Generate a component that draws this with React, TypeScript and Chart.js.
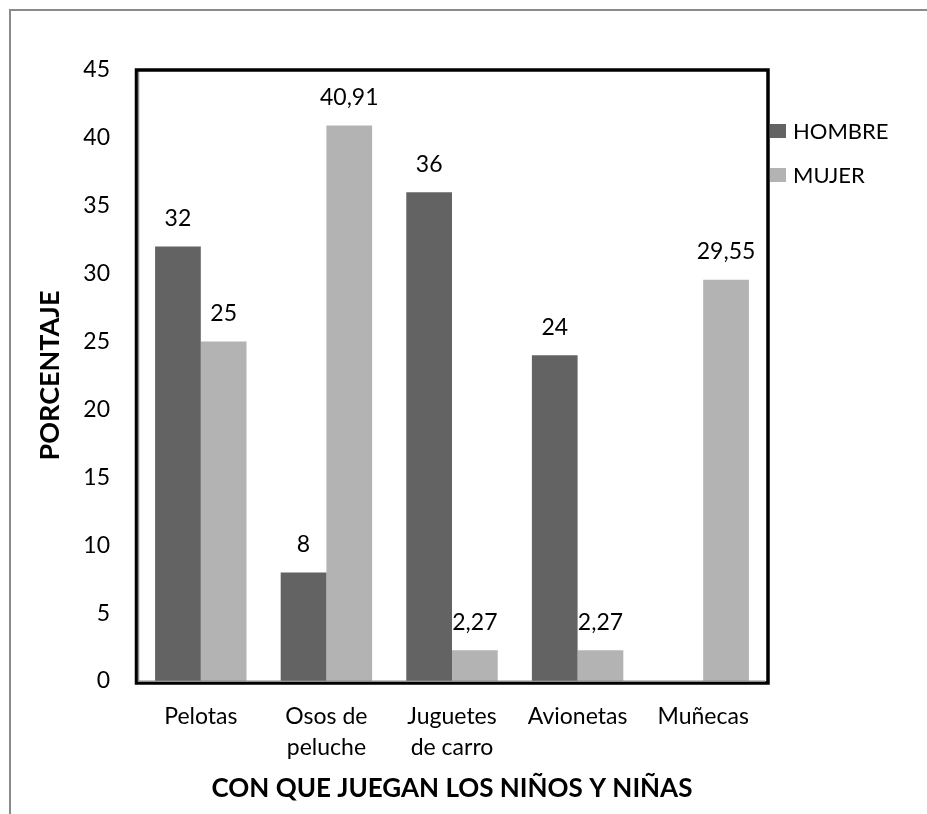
import React, { useEffect, useRef } from "react";
import { Chart, registerables } from "chart.js";

Chart.register(...registerables);

const categories: string[][] = [["Pelotas"], ["Osos de", "peluche"], ["Juguetes", "de carro"], ["Avionetas"], ["Muñecas"]];
const hombre: (number | null)[] = [32, 8, 36, 24, null];
const mujer: (number | null)[] = [25, 40.91, 2.27, 2.27, 29.55];
const seriesNames = ["HOMBRE", "MUJER"];
const seriesColors = ["#636363", "#b3b3b3"];
const yMin = 0;
const yMax = 45;
const yStep = 5;
const xTitle = "CON QUE JUEGAN LOS NIÑOS Y NIÑAS";
const yTitle = "PORCENTAJE";

const FONT = "Lato, 'Open Sans', sans-serif";

const decorPlugin = {
  id: "decor",
  afterDatasetsDraw(chart: any) {
    const ctx = chart.ctx;
    const { left, top, right, bottom } = chart.chartArea;
    ctx.save();
    // outer gray frame (top + left)
    ctx.strokeStyle = "#8a8a8a";
    ctx.lineWidth = 2;
    ctx.beginPath();
    ctx.moveTo(10, 814);
    ctx.lineTo(10, 10);
    ctx.lineTo(927, 10);
    ctx.stroke();
    // black plot frame
    ctx.strokeStyle = "#000";
    ctx.lineWidth = 3.5;
    ctx.strokeRect(left - 1.5, top, right - left + 3.5, bottom - top + 2);
    // gray inner axis lines
    ctx.strokeStyle = "#8c8c8c";
    ctx.lineWidth = 1.5;
    ctx.beginPath();
    ctx.moveTo(left + 0.5, top + 2);
    ctx.lineTo(left + 0.5, bottom + 0.2);
    ctx.lineTo(right - 1, bottom + 0.2);
    ctx.stroke();

    // data labels
    ctx.fillStyle = "#000";
    ctx.font = `23px ${FONT}`;
    ctx.textAlign = "center";
    ctx.textBaseline = "middle";
    chart.data.datasets.forEach((ds: any, di: number) => {
      const meta = chart.getDatasetMeta(di);
      meta.data.forEach((bar: any, i: number) => {
        const v = ds.data[i];
        if (v === null || v === undefined) return;
        const txt = String(v).replace(".", ",");
        ctx.fillText(txt, bar.x, bar.y - 28);
      });
    });

    // legend
    ctx.textAlign = "left";
    ctx.font = `22px ${FONT}`;
    chart.data.datasets.forEach((ds: any, di: number) => {
      const cy = top + 61 + di * 44;
      ctx.fillStyle = ds.backgroundColor;
      ctx.fillRect(right + 4, cy - 7, 16, 14);
      ctx.fillStyle = "#000";
      ctx.fillText(ds.label, right + 27, cy + 1);
    });
    ctx.restore();
  },
};

export default function App() {
  const ref = useRef<HTMLCanvasElement>(null);
  useEffect(() => {
    if (!ref.current) return;
    const chart = new Chart(ref.current, {
      type: "bar",
      data: {
        labels: categories,
        datasets: [
          { label: seriesNames[0], data: hombre, backgroundColor: seriesColors[0], borderWidth: 0 },
          { label: seriesNames[1], data: mujer, backgroundColor: seriesColors[1], borderWidth: 0 },
        ],
      },
      options: {
        responsive: false,
        animation: false,
        events: [],
        layout: { padding: { left: 0, top: 70, right: 161, bottom: 0 } },
        datasets: { bar: { categoryPercentage: 0.728, barPercentage: 1 } } as any,
        plugins: {
          legend: { display: false },
          tooltip: { enabled: false },
        },
        scales: {
          x: {
            afterFit: (s: any) => { s.height = 133; },
            grid: { display: false, drawTicks: false, tickLength: 0 },
            border: { display: false },
            ticks: {
              color: "#000",
              font: { family: FONT, size: 23, lineHeight: 1.35 },
              padding: 20,
              maxRotation: 0,
              autoSkip: false,
            },
            title: {
              display: true,
              text: xTitle,
              color: "#000",
              font: { family: FONT, size: 26, weight: "bold", lineHeight: 1.2 },
              padding: { top: 0, bottom: 10 },
            },
          },
          y: {
            min: yMin,
            max: yMax,
            afterFit: (s: any) => { s.width = 138; },
            grid: { display: false, drawTicks: false, tickLength: 0 },
            border: { display: false },
            ticks: {
              stepSize: yStep,
              color: "#000",
              font: { family: FONT, size: 23 },
              padding: 28,
            },
            title: {
              display: true,
              text: yTitle,
              color: "#000",
              font: { family: FONT, size: 27, weight: "bold", lineHeight: 1.2 },
              padding: { top: 34, bottom: 0 },
            },
          },
        },
      },
      plugins: [decorPlugin],
    });
    return () => chart.destroy();
  }, []);
  return (
    <div style={{ position: "absolute", left: 0, top: 0, width: 927, height: 814, background: "#fff" }}>
      <canvas ref={ref} width={927} height={814} style={{ display: "block" }} />
    </div>
  );
}
